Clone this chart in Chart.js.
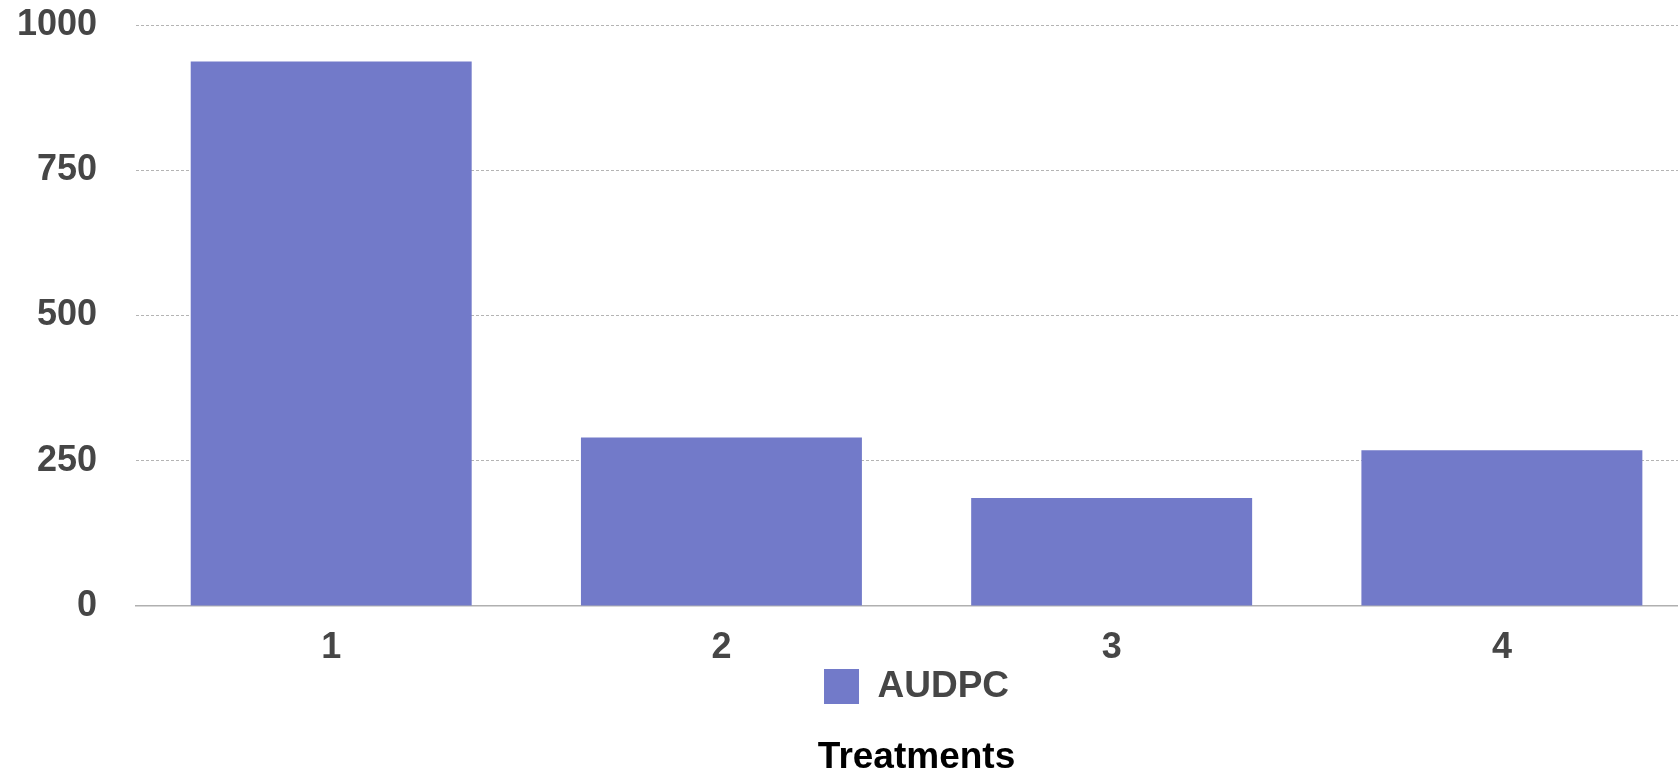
<!DOCTYPE html>
<html>
<head>
<meta charset="utf-8">
<script src="https://cdn.jsdelivr.net/npm/chart.js@4.4.1/dist/chart.umd.min.js"></script>
<style>
  html, body { margin: 0; padding: 0; overflow: hidden; background: #fff; }
  #wrap { position: relative; width: 1700px; height: 773px; }
</style>
</head>
<body>
<div id="wrap"><canvas id="audpcChart"></canvas></div>
<script>
const treatments = ['1', '2', '3', '4'];
const audpcValues = [937, 290, 186, 268];
const yTicks = [0, 250, 500, 750, 1000];

const barColor = '#727ac9';
const tickColor = '#464646';
const fontFamily = 'Liberation Sans, Arial, sans-serif';

const ctx = document.getElementById('audpcChart').getContext('2d');

const myChart = new Chart(ctx, {
    type: 'bar',
    data: {
        labels: treatments,
        datasets: [{
            label: 'AUDPC',
            data: audpcValues,
            backgroundColor: barColor,
            borderWidth: 0,
            barPercentage: 0.72,
            categoryPercentage: 1
        }]
    },
    options: {
        responsive: true,
        maintainAspectRatio: false,
        animation: false,
        layout: {
            padding: { left: 17, right: 3, top: 25, bottom: 0 }
        },
        plugins: {
            legend: {
                position: 'bottom',
                fullSize: false,
                labels: {
                    color: tickColor,
                    boxWidth: 35,
                    boxHeight: 35,
                    padding: 0,
                    font: { family: fontFamily, size: 37, weight: 'bold' }
                }
            },
            title: {
                display: true,
                text: 'Treatments',
                position: 'bottom',
                fullSize: false,
                color: '#000',
                padding: { top: 24, bottom: -3 },
                font: { family: fontFamily, size: 37, weight: 'bold', lineHeight: 1 }
            },
            tooltip: { enabled: false }
        },
        scales: {
            y: {
                min: 0,
                max: 1000,
                afterBuildTicks: (axis) => { axis.ticks = yTicks.map(v => ({ value: v })); },
                ticks: {
                    color: tickColor,
                    padding: 0,
                    callback: (v) => String(v),
                    font: { family: fontFamily, size: 36, weight: 'bold' }
                },
                grid: {
                    drawTicks: true,
                    tickLength: 39,
                    tickColor: 'rgba(0,0,0,0)',
                    color: (c) => c.tick && c.tick.value === 0 ? 'rgba(0,0,0,0)' : '#b4b4b4',
                    lineWidth: 1
                },
                border: { display: false, dash: [3, 2] }
            },
            x: {
                // tick labels sit between the axis and the legend, trim the spare room
                afterFit: (scale) => { scale.height -= 22; },
                ticks: {
                    color: tickColor,
                    padding: 24,
                    font: { family: fontFamily, size: 36, weight: 'bold', lineHeight: 1 }
                },
                grid: { display: false, drawTicks: false },
                border: { display: true, color: '#b0b0b0', width: 1.5 }
            }
        }
    }
});
</script>
</body>
</html>
